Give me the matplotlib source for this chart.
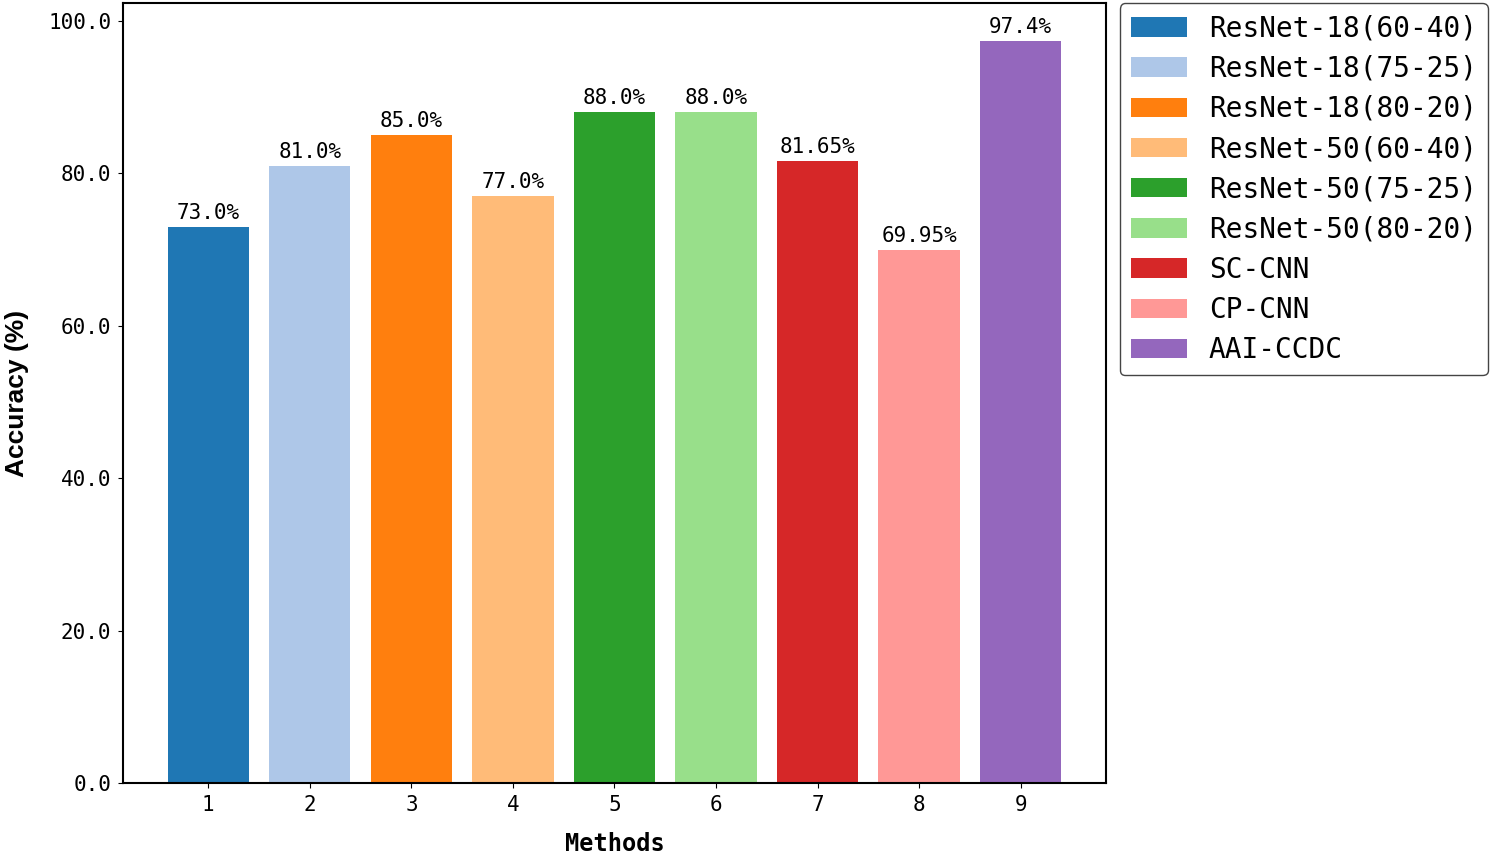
import matplotlib
matplotlib.use('Agg')
import matplotlib.pyplot as plt

methods = [1, 2, 3, 4, 5, 6, 7, 8, 9]
accuracy = [73.0, 81.0, 85.0, 77.0, 88.0, 88.0, 81.65, 69.95, 97.4]
value_labels = ['73.0%', '81.0%', '85.0%', '77.0%', '88.0%', '88.0%',
                '81.65%', '69.95%', '97.4%']
names = ['ResNet-18(60-40)', 'ResNet-18(75-25)', 'ResNet-18(80-20)',
         'ResNet-50(60-40)', 'ResNet-50(75-25)', 'ResNet-50(80-20)',
         'SC-CNN', 'CP-CNN', 'AAI-CCDC']

plt.rcParams['font.family'] = 'DejaVu Sans Mono'

fig = plt.figure(figsize=(15, 8.55), dpi=100)
ax = fig.add_axes([0.082, 0.084, 0.6553, 0.912])

colors = plt.cm.tab20.colors[:9]
bars = ax.bar(methods, accuracy, width=0.8, color=colors)

for x, y, s in zip(methods, accuracy, value_labels):
    ax.text(x, y + 0.5, s, ha='center', va='bottom', fontsize=15)

ax.set_xticks(methods)
ax.set_yticks([0, 20, 40, 60, 80, 100])
ax.set_yticklabels(['%.1f' % v for v in [0, 20, 40, 60, 80, 100]])
ax.tick_params(labelsize=15, pad=5)
ax.set_xlabel('Methods', fontsize=17, fontweight='bold', labelpad=12)
ax.set_ylabel('Accuracy (%)', fontsize=19, fontweight='bold',
              family='Liberation Sans', labelpad=14)
for s in ax.spines.values():
    s.set_linewidth(1.5)

ax.legend(handles=list(bars), labels=names, loc='upper left',
          bbox_to_anchor=(1.0142, 1.0), borderaxespad=0.0, fontsize=20,
          labelspacing=0.44, edgecolor='#444444', framealpha=1)

fig.savefig('out.png')
